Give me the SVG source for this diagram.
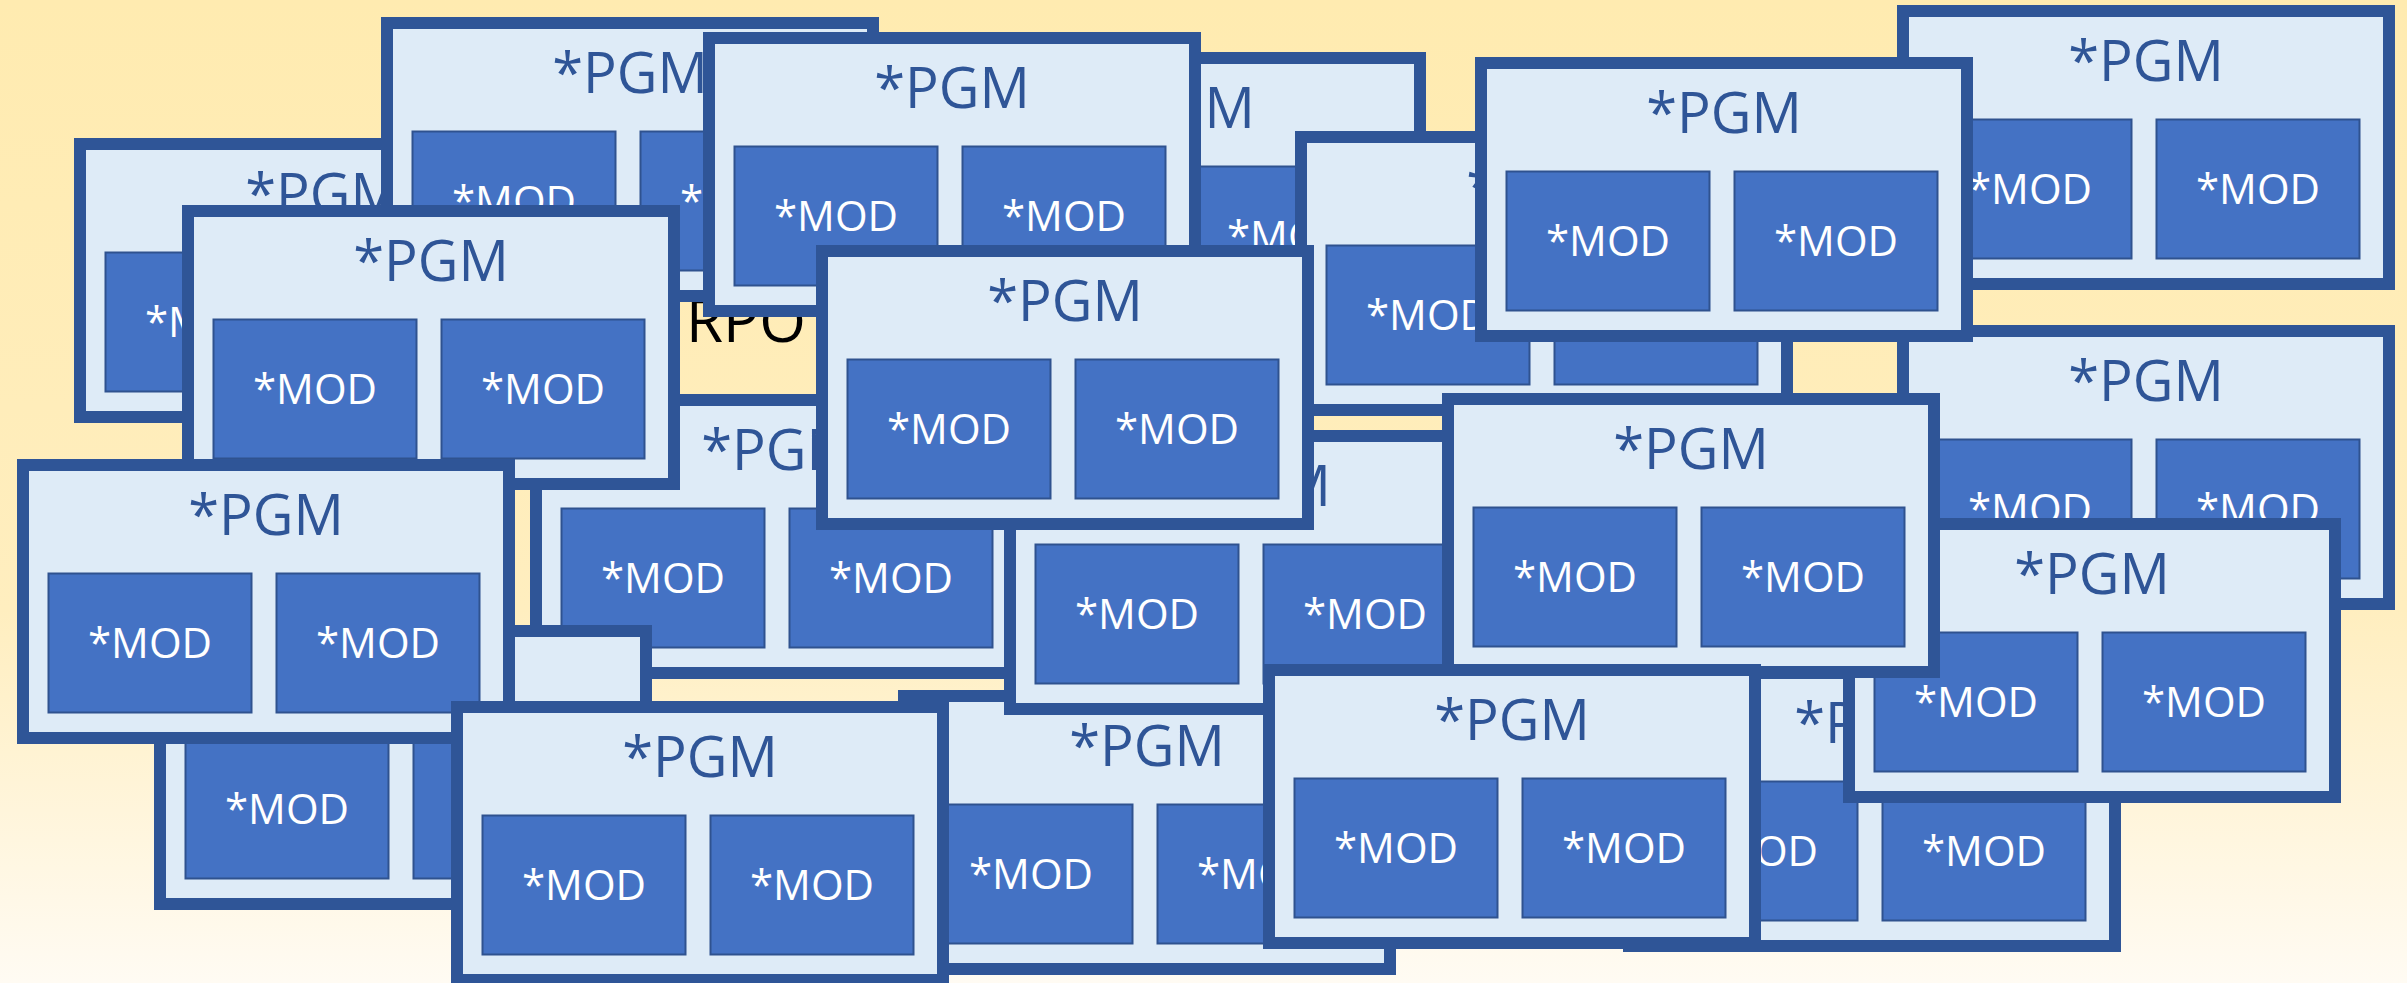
<svg xmlns="http://www.w3.org/2000/svg" width="2407" height="983" viewBox="0 0 2407 983">
<defs>
<linearGradient id="bg" x1="0" y1="0" x2="0" y2="1">
<stop offset="0" stop-color="#FFEBB0"/>
<stop offset="0.62" stop-color="#FFEEBF"/>
<stop offset="1" stop-color="#FFFBF3"/>
</linearGradient>
<style>
.pgm{fill:#DEEBF7;stroke:#2F5597;stroke-width:12}
.mod{fill:#4472C4;stroke:#2F528F;stroke-width:2}
.pt{font-family:"Open Sans","Liberation Sans",sans-serif;font-size:56px;fill:#2F5597;text-anchor:middle}
.mt{font-family:"Open Sans","Liberation Sans",sans-serif;font-size:42px;fill:#FFFFFF;text-anchor:middle}
.bg-text{font-family:"Open Sans","Liberation Sans",sans-serif;font-size:60px;fill:#000000}
</style>
</defs>
<rect x="0" y="0" width="2407" height="983" fill="url(#bg)"/>
<text class="bg-text" x="686" y="342">RPO</text>
<g id="connectors"></g>
<g id="pgmA" transform="translate(74,138)"><rect class="pgm" x="6" y="6" width="486" height="273"/><text class="pt" x="249" y="76">*PGM</text><rect class="mod" x="31.5" y="114.5" width="203" height="139"/><rect class="mod" x="259.5" y="114.5" width="203" height="139"/><text class="mt" x="133" y="199">*MOD</text><text class="mt" x="361" y="199">*MOD</text></g>
<g id="pgmD" transform="translate(928,52)"><rect class="pgm" x="6" y="6" width="486" height="273"/><text class="pt" x="249" y="76">*PGM</text><rect class="mod" x="31.5" y="114.5" width="203" height="139"/><rect class="mod" x="259.5" y="114.5" width="203" height="139"/><text class="mt" x="133" y="199">*MOD</text><text class="mt" x="361" y="199">*MOD</text></g>
<g id="pgmG" transform="translate(1897,5)"><rect class="pgm" x="6" y="6" width="486" height="273"/><text class="pt" x="249" y="76">*PGM</text><rect class="mod" x="31.5" y="114.5" width="203" height="139"/><rect class="mod" x="259.5" y="114.5" width="203" height="139"/><text class="mt" x="133" y="199">*MOD</text><text class="mt" x="361" y="199">*MOD</text></g>
<g id="pgmH" transform="translate(1897,325)"><rect class="pgm" x="6" y="6" width="486" height="273"/><text class="pt" x="249" y="76">*PGM</text><rect class="mod" x="31.5" y="114.5" width="203" height="139"/><rect class="mod" x="259.5" y="114.5" width="203" height="139"/><text class="mt" x="133" y="199">*MOD</text><text class="mt" x="361" y="199">*MOD</text></g>
<g id="pgmB" transform="translate(381,17)"><rect class="pgm" x="6" y="6" width="486" height="273"/><text class="pt" x="249" y="76">*PGM</text><rect class="mod" x="31.5" y="114.5" width="203" height="139"/><rect class="mod" x="259.5" y="114.5" width="203" height="139"/><text class="mt" x="133" y="199">*MOD</text><text class="mt" x="361" y="199">*MOD</text></g>
<g id="pgmK" transform="translate(530,394)"><rect class="pgm" x="6" y="6" width="486" height="273"/><text class="pt" x="249" y="76">*PGM</text><rect class="mod" x="31.5" y="114.5" width="203" height="139"/><rect class="mod" x="259.5" y="114.5" width="203" height="139"/><text class="mt" x="133" y="199">*MOD</text><text class="mt" x="361" y="199">*MOD</text></g>
<g id="pgmS" transform="translate(1623,667)"><rect class="pgm" x="6" y="6" width="486" height="273"/><text class="pt" x="249" y="76">*PGM</text><rect class="mod" x="31.5" y="114.5" width="203" height="139"/><rect class="mod" x="259.5" y="114.5" width="203" height="139"/><text class="mt" x="133" y="199">*MOD</text><text class="mt" x="361" y="199">*MOD</text></g>
<g id="pgmT" transform="translate(1843,518)"><rect class="pgm" x="6" y="6" width="486" height="273"/><text class="pt" x="249" y="76">*PGM</text><rect class="mod" x="31.5" y="114.5" width="203" height="139"/><rect class="mod" x="259.5" y="114.5" width="203" height="139"/><text class="mt" x="133" y="199">*MOD</text><text class="mt" x="361" y="199">*MOD</text></g>
<g id="pgmE" transform="translate(1295,131)"><rect class="pgm" x="6" y="6" width="486" height="273"/><text class="pt" x="249" y="76">*PGM</text><rect class="mod" x="31.5" y="114.5" width="203" height="139"/><rect class="mod" x="259.5" y="114.5" width="203" height="139"/><text class="mt" x="133" y="199">*MOD</text><text class="mt" x="361" y="199">*MOD</text></g>
<g id="pgmQ" transform="translate(898,690)"><rect class="pgm" x="6" y="6" width="486" height="273"/><text class="pt" x="249" y="76">*PGM</text><rect class="mod" x="31.5" y="114.5" width="203" height="139"/><rect class="mod" x="259.5" y="114.5" width="203" height="139"/><text class="mt" x="133" y="199">*MOD</text><text class="mt" x="361" y="199">*MOD</text></g>
<g id="pgmL" transform="translate(1004,430)"><rect class="pgm" x="6" y="6" width="486" height="273"/><text class="pt" x="249" y="76">*PGM</text><rect class="mod" x="31.5" y="114.5" width="203" height="139"/><rect class="mod" x="259.5" y="114.5" width="203" height="139"/><text class="mt" x="133" y="199">*MOD</text><text class="mt" x="361" y="199">*MOD</text></g>
<g id="pgmM" transform="translate(1442,393)"><rect class="pgm" x="6" y="6" width="486" height="273"/><text class="pt" x="249" y="76">*PGM</text><rect class="mod" x="31.5" y="114.5" width="203" height="139"/><rect class="mod" x="259.5" y="114.5" width="203" height="139"/><text class="mt" x="133" y="199">*MOD</text><text class="mt" x="361" y="199">*MOD</text></g>
<g id="pgmR" transform="translate(1263,664)"><rect class="pgm" x="6" y="6" width="486" height="273"/><text class="pt" x="249" y="76">*PGM</text><rect class="mod" x="31.5" y="114.5" width="203" height="139"/><rect class="mod" x="259.5" y="114.5" width="203" height="139"/><text class="mt" x="133" y="199">*MOD</text><text class="mt" x="361" y="199">*MOD</text></g>
<g id="pgmC" transform="translate(703,32)"><rect class="pgm" x="6" y="6" width="486" height="273"/><text class="pt" x="249" y="76">*PGM</text><rect class="mod" x="31.5" y="114.5" width="203" height="139"/><rect class="mod" x="259.5" y="114.5" width="203" height="139"/><text class="mt" x="133" y="199">*MOD</text><text class="mt" x="361" y="199">*MOD</text></g>
<g id="pgmJ" transform="translate(816,245)"><rect class="pgm" x="6" y="6" width="486" height="273"/><text class="pt" x="249" y="76">*PGM</text><rect class="mod" x="31.5" y="114.5" width="203" height="139"/><rect class="mod" x="259.5" y="114.5" width="203" height="139"/><text class="mt" x="133" y="199">*MOD</text><text class="mt" x="361" y="199">*MOD</text></g>
<g id="pgmF" transform="translate(1475,57)"><rect class="pgm" x="6" y="6" width="486" height="273"/><text class="pt" x="249" y="76">*PGM</text><rect class="mod" x="31.5" y="114.5" width="203" height="139"/><rect class="mod" x="259.5" y="114.5" width="203" height="139"/><text class="mt" x="133" y="199">*MOD</text><text class="mt" x="361" y="199">*MOD</text></g>
<g id="pgmI" transform="translate(182,205)"><rect class="pgm" x="6" y="6" width="486" height="273"/><text class="pt" x="249" y="76">*PGM</text><rect class="mod" x="31.5" y="114.5" width="203" height="139"/><rect class="mod" x="259.5" y="114.5" width="203" height="139"/><text class="mt" x="133" y="199">*MOD</text><text class="mt" x="361" y="199">*MOD</text></g>
<g id="pgmO" transform="translate(154,625)"><rect class="pgm" x="6" y="6" width="486" height="273"/><text class="pt" x="249" y="76">*PGM</text><rect class="mod" x="31.5" y="114.5" width="203" height="139"/><rect class="mod" x="259.5" y="114.5" width="203" height="139"/><text class="mt" x="133" y="199">*MOD</text><text class="mt" x="361" y="199">*MOD</text></g>
<g id="pgmN" transform="translate(17,459)"><rect class="pgm" x="6" y="6" width="486" height="273"/><text class="pt" x="249" y="76">*PGM</text><rect class="mod" x="31.5" y="114.5" width="203" height="139"/><rect class="mod" x="259.5" y="114.5" width="203" height="139"/><text class="mt" x="133" y="199">*MOD</text><text class="mt" x="361" y="199">*MOD</text></g>
<g id="pgmP" transform="translate(451,701)"><rect class="pgm" x="6" y="6" width="486" height="273"/><text class="pt" x="249" y="76">*PGM</text><rect class="mod" x="31.5" y="114.5" width="203" height="139"/><rect class="mod" x="259.5" y="114.5" width="203" height="139"/><text class="mt" x="133" y="199">*MOD</text><text class="mt" x="361" y="199">*MOD</text></g>
</svg>
